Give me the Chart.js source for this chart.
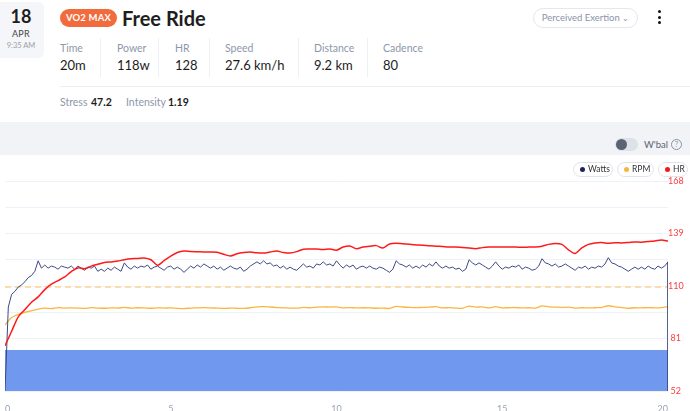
<!DOCTYPE html>
<html>
<head>
<meta charset="utf-8">
<script src="https://cdn.jsdelivr.net/npm/chart.js@4/dist/chart.umd.min.js"></script>
<style>
  html, body { margin: 0; padding: 0; }
  body { width: 690px; height: 411px; position: relative; overflow: hidden; background: #fff; font-family: Lato, "Open Sans", sans-serif; }
  .abs { position: absolute; white-space: nowrap; }
  .datebox { left: 0; top: 2px; width: 44px; height: 56px; background: #f5f6f9; border-radius: 0 6px 6px 0; }
  .day { left: 0; width: 42px; top: 5px; text-align: center; font-size: 18px; font-weight: 700; color: #1e1e1e; line-height: 22px; }
  .mon { left: 0; width: 42px; top: 28px; text-align: center; font-size: 9px; color: #444; line-height: 11px; letter-spacing: 0.3px; }
  .time { left: 0; width: 42px; top: 41px; text-align: center; font-size: 7.5px; color: #9a9fa8; line-height: 10px; }
  .badge { left: 60px; top: 9px; width: 57px; height: 18px; background: #f26b3c; border-radius: 10px; color: #fff; font-size: 9.5px; font-weight: 700; text-align: center; line-height: 18px; letter-spacing: 0.2px; }
  .title { left: 122px; top: 4px; font-size: 20px; font-weight: 700; color: #1e1e1e; line-height: 28px; }
  .pe { left: 533px; top: 8px; width: 103px; height: 18px; border: 1px solid #e4e7ed; border-radius: 10px; color: #8a93a8; font-size: 9.5px; line-height: 18px; text-align: center; }
  .kebab { left: 657px; top: 10px; width: 6px; }
  .kebab div { width: 3px; height: 3px; background: #111; border-radius: 50%; margin: 0 0 2.5px 1px; }
  .lbl { top: 41px; font-size: 10.5px; color: #8d97ab; line-height: 14px; }
  .val { top: 56px; font-size: 13px; color: #1c1c1c; line-height: 18px; }
  .sep { top: 38px; width: 1px; height: 39px; background: #eef0f3; }
  .hline { left: 60px; top: 86px; width: 630px; height: 1px; background: #eceef2; }
  .s1 { top: 95px; font-size: 10.5px; color: #8d97ab; line-height: 14px; }
  .s2 { top: 95px; font-size: 10.5px; color: #1c1c1c; line-height: 14px; font-weight: 700; }
  .band { left: 0; top: 122px; width: 690px; height: 33px; background: #f1f3f7; }
  .toggle { left: 615px; top: 138px; width: 23px; height: 13px; background: #dde1e8; border-radius: 7px; }
  .knob { left: 616px; top: 139px; width: 11px; height: 11px; background: #5b6274; border-radius: 50%; }
  .wbal { left: 644px; top: 138px; font-size: 9.5px; color: #5a6273; line-height: 14px; }
  .q { left: 671px; top: 139px; width: 9px; height: 9px; border: 1px solid #8a93a8; border-radius: 50%; font-size: 7.5px; color: #8a93a8; text-align: center; line-height: 9px; }
  .pill { top: 162px; height: 13px; border: 1px solid #dfe3ea; border-radius: 8px; background: #fff; font-size: 8.5px; color: #333; line-height: 13px; padding-left: 6px; box-sizing: content-box; }
  .dot { display: inline-block; width: 5px; height: 5px; border-radius: 50%; margin: 0 3px 1px 0; vertical-align: middle; }
  #wrap { position: absolute; left: 0; top: 155px; width: 690px; height: 256px; }
</style>
</head>
<body>
<div class="abs datebox"></div>
<div class="abs day">18</div>
<div class="abs mon">APR</div>
<div class="abs time">9:35 AM</div>
<div class="abs badge">VO2 MAX</div>
<div class="abs title">Free Ride</div>
<div class="abs pe">Perceived Exertion <span style="font-size:8px;">&#8964;</span></div>
<div class="abs kebab"><div></div><div></div><div></div></div>

<div class="abs lbl" style="left:60px;">Time</div>
<div class="abs val" style="left:60px;">20m</div>
<div class="abs sep" style="left:100px;"></div>
<div class="abs lbl" style="left:117px;">Power</div>
<div class="abs val" style="left:117px;">118w</div>
<div class="abs sep" style="left:158px;"></div>
<div class="abs lbl" style="left:175px;">HR</div>
<div class="abs val" style="left:175px;">128</div>
<div class="abs sep" style="left:209px;"></div>
<div class="abs lbl" style="left:225px;">Speed</div>
<div class="abs val" style="left:225px;">27.6 km/h</div>
<div class="abs sep" style="left:298px;"></div>
<div class="abs lbl" style="left:314px;">Distance</div>
<div class="abs val" style="left:314px;">9.2 km</div>
<div class="abs sep" style="left:367px;"></div>
<div class="abs lbl" style="left:383px;">Cadence</div>
<div class="abs val" style="left:383px;">80</div>
<div class="abs hline"></div>
<div class="abs s1" style="left:60px;">Stress</div>
<div class="abs s2" style="left:91px;">47.2</div>
<div class="abs s1" style="left:126px;">Intensity</div>
<div class="abs s2" style="left:168px;">1.19</div>

<div class="abs band"></div>
<div class="abs toggle"></div>
<div class="abs knob"></div>
<div class="abs wbal">W'bal</div>
<div class="abs q">?</div>

<div id="wrap"><canvas id="c" width="690" height="256"></canvas></div>

<div class="abs pill" style="left:573px;width:32px;"><span class="dot" style="background:#1d2461;"></span>Watts</div>
<div class="abs pill" style="left:617px;width:29px;"><span class="dot" style="background:#f8b63e;"></span>RPM</div>
<div class="abs pill" style="left:658px;width:22px;"><span class="dot" style="background:#f01818;"></span>HR</div>

<script>
// time axes in minutes
const wattMinutes = [];
for (let i = 0; i <= 200; i++) wattMinutes.push(+(i * 0.1).toFixed(1));
const minutes = [];
for (let i = 0; i <= 100; i++) minutes.push(+(i * 0.2).toFixed(1));

const watts = [0, 80, 92, 95, 99, 101, 104, 108, 110, 114,
  124, 117, 120, 117, 119, 118, 116, 119, 118, 117,
  119, 116, 119, 117, 115, 118, 117, 119, 114, 116,
  114, 117, 115, 118, 116, 114, 122, 118, 116, 119,
  117, 119, 118, 120, 116, 118, 119, 117, 115, 118,
  119, 116, 118, 116, 113, 116, 119, 117, 120, 118,
  121, 119, 117, 119, 116, 118, 115, 117, 119, 117,
  116, 118, 114, 116, 119, 121, 123, 121, 124, 121,
  122, 119, 120, 117, 119, 116, 118, 116, 115, 118,
  121, 118, 119, 117, 121, 120, 123, 120, 121, 119,
  124, 120, 117, 120, 118, 120, 116, 118, 119, 117,
  119, 117, 116, 118, 117, 115, 113, 116, 124, 121,
  120, 118, 120, 117, 119, 117, 120, 118, 121, 119,
  123, 119, 117, 119, 117, 118, 116, 117, 114, 116,
  125, 122, 120, 122, 120, 118, 116, 119, 123, 119,
  116, 118, 117, 119, 118, 120, 116, 118, 117, 115,
  116, 119, 126, 122, 121, 119, 121, 118, 119, 121,
  119, 117, 115, 118, 117, 119, 116, 118, 117, 119,
  118, 121, 127, 122, 121, 119, 118, 116, 114, 116,
  118, 116, 118, 116, 119, 117, 116, 119, 117, 119,
  123];

const hr = [77, 85, 93, 97, 101, 104, 108, 111, 113, 115,
  118, 120, 119.5, 121, 122, 123, 123.3, 123.8, 124.5, 125,
  125.2, 125.5, 124.5, 121.5, 124, 126.5, 128.5, 129.3, 129, 128.9,
  128.8, 128.8, 128.6, 127.5, 126.6, 127.8, 128.5, 128.8, 128.3, 128.2,
  128.8, 129.3, 128.5, 128.2, 129, 130.3, 130.4, 130.4, 130.2, 130.5,
  129.8, 131.5, 132.1, 130.6, 131.5, 132, 132.3, 131, 133.2, 133.6,
  133.3, 133, 132.7, 132.5, 132.2, 132, 131.8, 131.6, 131.5, 131.3,
  131, 130.6, 131.2, 131.5, 131.6, 131.5, 131.5, 131.5, 131.4, 131.5,
  131.6, 132, 133, 133.5, 133, 130, 128, 131, 133, 133.8,
  134, 133.6, 133.9, 133.8, 134, 134.3, 134.2, 134.6, 134.9, 135.4, 134.8];

const rpm = [63, 70, 73, 75, 76.5, 78, 79, 78.5, 79.5, 79,
  79.2, 79, 78.6, 79.4, 79, 78.8, 79.2, 79, 79.6, 79,
  79.3, 79.1, 78.8, 79.2, 79, 79.1, 78.7, 78.5, 79, 79.2,
  79.4, 79.1, 79, 78.6, 79, 78.8, 78.7, 79.3, 80.2, 80.4,
  80, 79.5, 79.2, 79, 78.9, 79.6, 79.3, 79.8, 80.1, 79.9,
  80.2, 79.1, 79.5, 79.1, 79.3, 79.2, 78.8, 79, 78.6, 80.5,
  80, 79.6, 79.4, 79.6, 79.8, 80.3, 79.2, 79.4, 79, 78.8,
  80.8, 79.9, 80.1, 79.2, 80.3, 79.2, 79.3, 79.5, 79.1, 79.3,
  78.9, 81, 80.2, 79.9, 79.6, 79.8, 79, 79.3, 79.1, 79.3,
  79.5, 81.2, 80.2, 79.4, 78.8, 79.3, 79.1, 79.5, 79.1, 79.4, 80.3];

const ftpWatts = 99;       // dashed reference line
const zoneWatts = 39;      // filled band at bottom
const hrTicks = [52, 81, 110, 139, 168];
const timeTicks = [0, 5, 10, 15, 20];

const wattsPts = watts.map((v, i) => ({ x: wattMinutes[i], y: v }));
wattsPts.push({ x: wattMinutes[wattMinutes.length - 1], y: 0 });
const hrPts = hr.map((v, i) => ({ x: minutes[i], y: v }));
const rpmPts = rpm.map((v, i) => ({ x: minutes[i], y: v }));

new Chart(document.getElementById('c'), {
  type: 'line',
  data: {
    datasets: [
      { label: 'HR', data: hrPts, yAxisID: 'yhr', borderColor: '#ff1a1a', borderWidth: 1.5, pointRadius: 0, tension: 0.3, fill: false, order: 0 },
      { label: 'Watts', data: wattsPts, yAxisID: 'yw', borderColor: '#3d4985', borderWidth: 1, pointRadius: 0, tension: 0, fill: false, order: 1 },
      { label: 'RPM', data: rpmPts, yAxisID: 'yw', borderColor: '#f9b640', borderWidth: 1.3, pointRadius: 0, tension: 0.2, fill: false, order: 2 },
      { label: 'FTP', data: [{ x: 0, y: ftpWatts }, { x: 20, y: ftpWatts }], yAxisID: 'yw', borderColor: '#fdd48c', borderWidth: 1.5, borderDash: [6, 4], pointRadius: 0, fill: false, order: 3 },
      { label: 'Zone', data: [{ x: 0, y: zoneWatts }, { x: 20, y: zoneWatts }], yAxisID: 'yw', borderColor: 'rgba(0,0,0,0)', borderWidth: 0, backgroundColor: '#6f98ee', pointRadius: 0, fill: 'origin', order: 4 }
    ]
  },
  options: {
    responsive: false,
    animation: false,
    devicePixelRatio: 1,
    layout: { padding: { top: 26, left: 5, right: 0, bottom: 0 } },
    plugins: { legend: { display: false }, tooltip: { enabled: false } },
    scales: {
      x: {
        type: 'linear', min: 0, max: 20,
        afterFit: (a) => { a.height = 20; },
        afterBuildTicks: (a) => { a.ticks = timeTicks.map(v => ({ value: v })); },
        ticks: { color: '#9aa3b5', font: { size: 9, family: 'Lato' }, padding: 5, align: 'inner', maxRotation: 0 },
        grid: { display: false },
        border: { display: false }
      },
      yw: { type: 'linear', position: 'left', min: 0, max: 200, display: false },
      yhr: {
        type: 'linear', position: 'right', min: 52, max: 168,
        afterFit: (a) => { a.width = 22; },
        ticks: {
          stepSize: 14.5,
          color: '#ff3b3b', font: { size: 9, family: 'Lato' }, crossAlign: 'center', padding: 0,
          callback: (v) => hrTicks.includes(v) ? String(v) : ''
        },
        grid: { color: '#edf2fa', drawTicks: false, lineWidth: 1 },
        border: { display: false }
      }
    }
  }
});
</script>
</body>
</html>
